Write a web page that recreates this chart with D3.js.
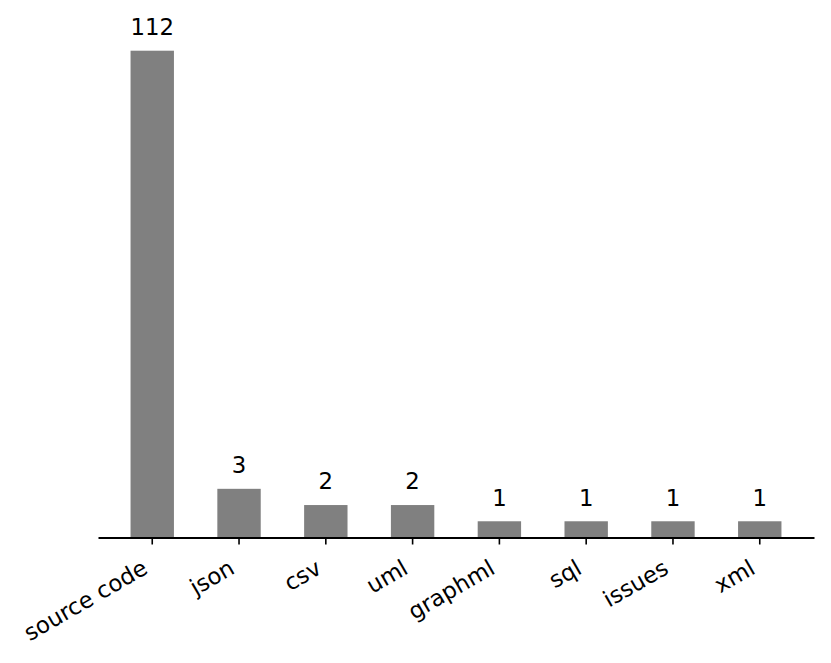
<!DOCTYPE html>
<html>
<head>
<meta charset="utf-8">
<script src="https://cdn.jsdelivr.net/npm/d3@7"></script>
<style>
  html, body { margin: 0; padding: 0; background: #fff; }
  svg { display: block; }
  text { font-family: "DejaVu Sans", sans-serif; fill: #000; }
</style>
</head>
<body>
<svg id="chart" width="831" height="663"></svg>
<script>
const categories = ["source code", "json", "csv", "uml", "graphml", "sql", "issues", "xml"];
const counts = [112, 3, 2, 2, 1, 1, 1, 1];
const yMax = 30;

const svg = d3.select("#chart");
const plotLeft = 98, plotRight = 814, plotBase = 537.5, plotTop = 50.7;
const fontSize = 22.8;

const x = d3.scaleBand()
  .domain(categories)
  .range([plotLeft, plotRight])
  .paddingInner(0.5)
  .paddingOuter(0.375);

const y = d3.scaleLinear()
  .domain([0, yMax])
  .range([plotBase, plotTop])
  .clamp(true);

const data = categories.map((c, i) => ({ c, v: counts[i] }));

svg.append("g").selectAll("rect")
  .data(data)
  .join("rect")
  .attr("x", d => x(d.c))
  .attr("width", x.bandwidth())
  .attr("y", d => y(d.v))
  .attr("height", d => y(0) - y(d.v))
  .attr("fill", "#808080");

svg.append("g").selectAll("text")
  .data(data)
  .join("text")
  .attr("x", d => x(d.c) + x.bandwidth() / 2)
  .attr("y", d => y(d.v) - 15.7)
  .attr("text-anchor", "middle")
  .style("font-size", fontSize + "px")
  .text(d => d.v);

const axis = d3.axisBottom(x).tickSize(7).tickPadding(0).tickSizeOuter(0);
const gx = svg.append("g")
  .attr("transform", `translate(0,${plotBase})`)
  .call(axis);
gx.select(".domain").attr("stroke", "#000").attr("stroke-width", 2);
gx.selectAll(".tick line").attr("stroke", "#000").attr("stroke-width", 1.6);
gx.selectAll(".tick text")
  .style("font-size", fontSize + "px")
  .attr("text-anchor", "end")
  .attr("dy", null)
  .attr("y", null)
  .attr("transform", "translate(-3,35) rotate(-30)");
</script>
</body>
</html>
